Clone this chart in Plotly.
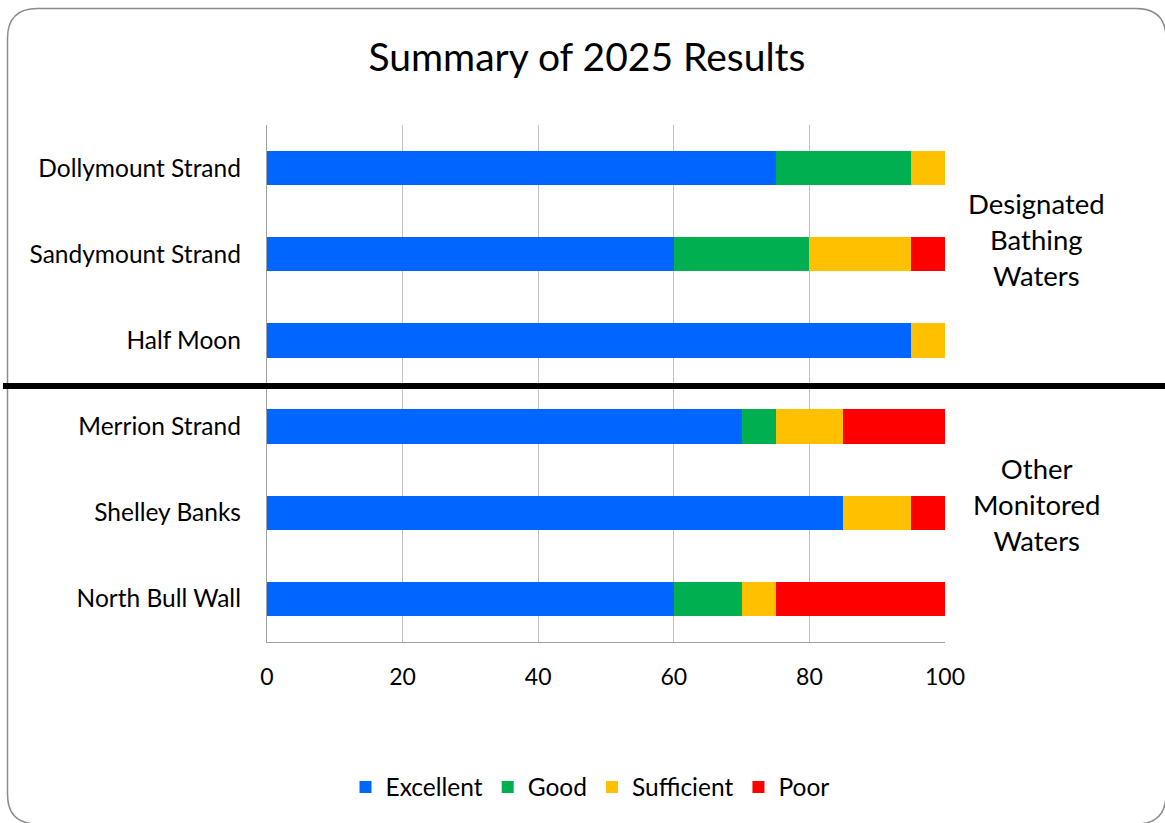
import plotly.graph_objects as go

categories = ["Dollymount Strand", "Sandymount Strand", "Half Moon",
              "Merrion Strand", "Shelley Banks", "North Bull Wall"]
excellent = [75, 60, 95, 70, 85, 60]
good = [20, 20, 0, 5, 0, 10]
sufficient = [5, 15, 5, 10, 10, 5]
poor = [0, 5, 0, 15, 5, 25]
series_names = ["Excellent", "Good", "Sufficient", "Poor"]
colors = ["#0066FF", "#00B050", "#FFC000", "#FF0000"]
x_ticks = [0, 20, 40, 60, 80, 100]
group_labels = ["Designated<br>Bathing<br>Waters", "Other<br>Monitored<br>Waters"]

W, H = 1165, 823
L, R, T, B = 267, 945, 125, 642  # plot area in page pixels
FONT = "Lato, 'Open Sans', sans-serif"


def px(x):
    return (x - L) / (R - L)


def py(y):
    return (B - y) / (B - T)


fig = go.Figure()
for name, vals, col in zip(series_names, [excellent, good, sufficient, poor], colors):
    fig.add_trace(go.Bar(y=categories, x=vals, name=name, orientation="h",
                         marker=dict(color=col, line=dict(width=0))))

# rounded border (page pixels)
x0, x1, y0, y1, r = 7.5, 1166, 8.5, 824, 30
rx = r / (R - L)
ry = r / (B - T)
X0, X1, Y0, Y1 = px(x0), px(x1), py(y0), py(y1)
path = (f"M {X0+rx},{Y0} L {X1-rx},{Y0} Q {X1},{Y0} {X1},{Y0-ry} "
        f"L {X1},{Y1+ry} Q {X1},{Y1} {X1-rx},{Y1} L {X0+rx},{Y1} "
        f"Q {X0},{Y1} {X0},{Y1+ry} L {X0},{Y0-ry} Q {X0},{Y0} {X0+rx},{Y0} Z")

shapes = [
    dict(type="path", xref="paper", yref="paper", path=path,
         line=dict(color="#8c8c8c", width=1.5), layer="below"),
    dict(type="line", xref="paper", yref="y", x0=px(3), x1=px(1166), y0=2.53, y1=2.53,
         line=dict(color="black", width=6)),
]

annotations = [
    dict(text=group_labels[0], xref="paper", yref="y", x=px(1036), y=0.825,
         xanchor="center", yanchor="middle",
         showarrow=False, font=dict(family=FONT, size=27.5, color="black"), align="center"),
    dict(text=group_labels[1], xref="paper", yref="y", x=px(1036), y=3.905,
         xanchor="center", yanchor="middle",
         showarrow=False, font=dict(family=FONT, size=27.5, color="black"), align="center"),
]

fig.update_layout(
    width=W, height=H,
    margin=dict(l=L, r=W - R, t=T, b=H - B, pad=0),
    paper_bgcolor="white", plot_bgcolor="white",
    barmode="stack", bargap=0.6,
    title=dict(text="Summary of 2025 Results", x=587 / W, xref="container",
               xanchor="center", y=1 - 57 / H, yref="container", yanchor="middle",
               font=dict(family=FONT, size=39, color="black")),
    font=dict(family=FONT, size=24, color="black"),
    xaxis=dict(range=[0, 100], tickvals=x_ticks, showgrid=True, gridcolor="#c0c0c0",
               gridwidth=1.3, zeroline=False, showline=True, linecolor="#a0a0a0",
               linewidth=1.3, ticks="", ticklabelstandoff=14, fixedrange=True,
               tickfont=dict(family=FONT, size=23)),
    yaxis=dict(autorange="reversed", showgrid=False, showline=True, linecolor="#a0a0a0",
               linewidth=1.3, ticks="", ticklabelstandoff=20, fixedrange=True,
               tickfont=dict(family=FONT, size=24.5)),
    legend=dict(orientation="h", xref="container", x=590 / W, xanchor="center",
                yref="container", y=1 - 787 / H, yanchor="middle",
                font=dict(family=FONT, size=24.5), itemwidth=30, traceorder="normal"),
    shapes=shapes, annotations=annotations, showlegend=True,
)

fig.write_html("out.html", config={"displayModeBar": False},
               post_script="document.body.style.margin='0px';")
